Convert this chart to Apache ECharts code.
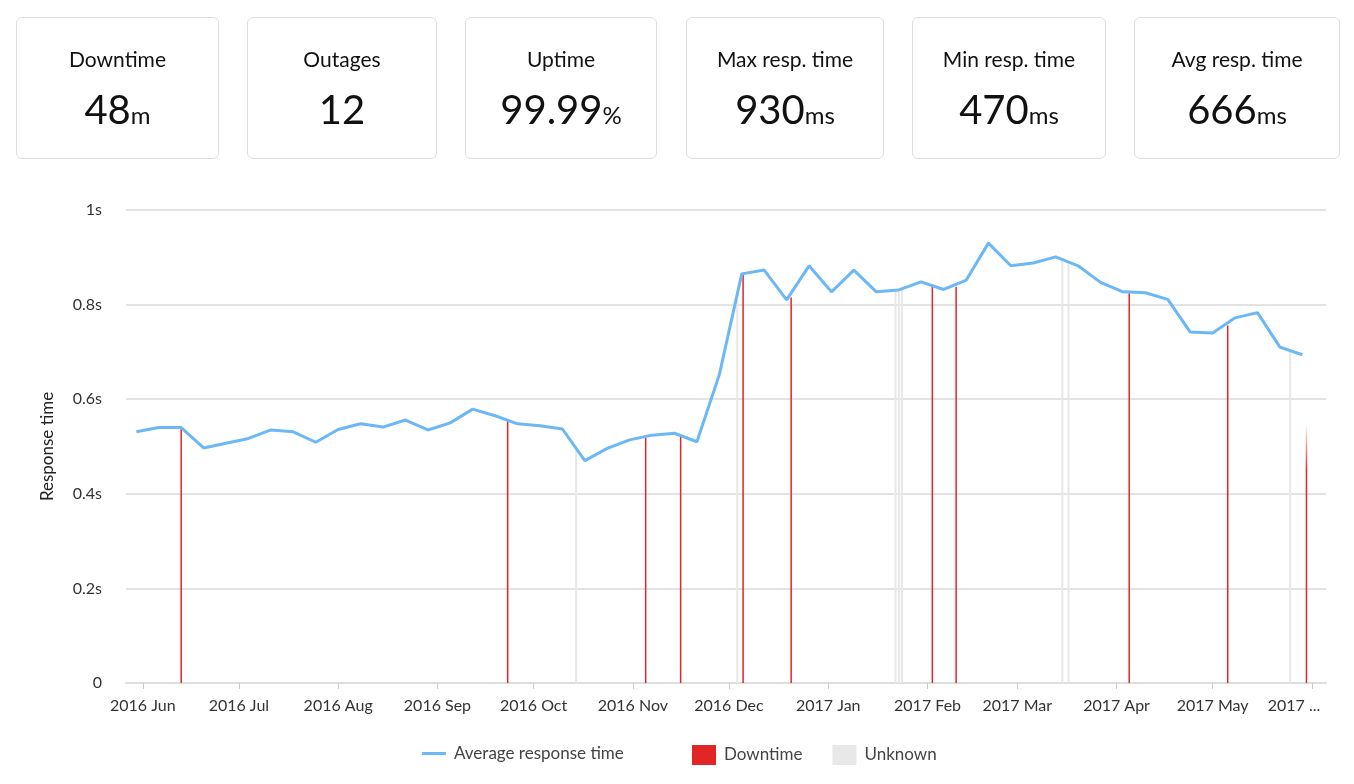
<!DOCTYPE html>
<html>
<head>
<meta charset="utf-8">
<script src="https://cdn.jsdelivr.net/npm/echarts@6/dist/echarts.min.js"></script>
<style>
  html, body { margin: 0; padding: 0; background: #fff; }
  body { width: 1354px; height: 784px; position: relative; overflow: hidden; font-family: Lato, "Open Sans", sans-serif; color: #111; }
  #chart { position: absolute; left: 0; top: 0; width: 1354px; height: 784px; }
  .card { position: absolute; top: 17px; height: 142px; border: 1px solid #dedede; border-radius: 6px; box-sizing: border-box; text-align: center; background: #fff; }
  .card .title { position: absolute; left: 0; right: 0; top: 29px; font-size: 21px; line-height: 24px; }
  .card .value { position: absolute; left: 0; right: 0; top: 69px; font-size: 40px; line-height: 44px; }
  .card .unit { font-size: 24px; }
</style>
</head>
<body>
<div id="chart"></div>
<div id="cards"></div>
<script>
// stat cards
var cardTitles = ['Downtime', 'Outages', 'Uptime', 'Max resp. time', 'Min resp. time', 'Avg resp. time'];
var cardValues = ['48', '12', '99.99', '930', '470', '666'];
var cardUnits = ['m', '', '%', 'ms', 'ms', 'ms'];
var cardLeft = [16, 247, 465, 686, 912, 1134];
var cardWidth = [203, 190, 192, 198, 194, 206];

// weekly average response time (seconds)
var weeks = [
  '2016-05-30', '2016-06-06', '2016-06-13', '2016-06-20', '2016-06-27',
  '2016-07-04', '2016-07-11', '2016-07-18', '2016-07-25',
  '2016-08-01', '2016-08-08', '2016-08-15', '2016-08-22', '2016-08-29',
  '2016-09-05', '2016-09-12', '2016-09-19', '2016-09-26',
  '2016-10-03', '2016-10-10', '2016-10-17', '2016-10-24', '2016-10-31',
  '2016-11-07', '2016-11-14', '2016-11-21', '2016-11-28',
  '2016-12-05', '2016-12-12', '2016-12-19', '2016-12-26',
  '2017-01-02', '2017-01-09', '2017-01-16', '2017-01-23', '2017-01-30',
  '2017-02-06', '2017-02-13', '2017-02-20', '2017-02-27',
  '2017-03-06', '2017-03-13', '2017-03-20', '2017-03-27',
  '2017-04-03', '2017-04-10', '2017-04-17', '2017-04-24',
  '2017-05-01', '2017-05-08', '2017-05-15', '2017-05-22', '2017-05-29'
];
var responseTime = [
  0.531, 0.540, 0.540, 0.497, 0.507,
  0.517, 0.535, 0.531, 0.509,
  0.536, 0.548, 0.541, 0.556, 0.535,
  0.550, 0.579, 0.565, 0.548,
  0.544, 0.537, 0.470, 0.496, 0.514,
  0.524, 0.528, 0.510, 0.652,
  0.865, 0.873, 0.810, 0.882,
  0.827, 0.873, 0.827, 0.831, 0.848,
  0.832, 0.851, 0.930, 0.882,
  0.888, 0.901, 0.882, 0.847,
  0.827, 0.825, 0.811, 0.742,
  0.740, 0.772, 0.783, 0.710, 0.694
];

// downtime events
var downtimeDates = [
  '2016-06-13', '2016-09-22 22:00', '2016-11-05', '2016-11-15 22:00',
  '2016-12-05 10:00', '2016-12-20 10:00', '2017-02-02 12:00', '2017-02-09 22:00',
  '2017-04-04 23:00', '2017-05-05 17:00', '2017-05-30 07:00'
];
var downtimeValues = [0.540, 0.556, 0.518, 0.521, 0.865, 0.815, 0.839, 0.838, 0.824, 0.756, 0.548];

// unknown periods
var unknownDates = [
  '2016-10-14 05:00', '2016-12-03 12:00', '2017-01-21 22:00', '2017-01-23',
  '2017-01-23 22:00', '2017-03-15', '2017-03-16 22:00', '2017-05-25 03:00'
];
var unknownValues = [0.50, 0.81, 0.83, 0.83, 0.831, 0.896, 0.89, 0.703];

var yTickLabels = ['0', '0.2s', '0.4s', '0.6s', '0.8s', '1s'];
var xTickLabels = ['2016 Jun', '2016 Jul', '2016 Aug', '2016 Sep', '2016 Oct', '2016 Nov',
  '2016 Dec', '2017 Jan', '2017 Feb', '2017 Mar', '2017 Apr', '2017 May', '2017 ...'];

var html = '';
for (var i = 0; i < cardTitles.length; i++) {
  html += '<div class="card" style="left:' + cardLeft[i] + 'px;width:' + cardWidth[i] + 'px">' +
    '<div class="title">' + cardTitles[i] + '</div>' +
    '<div class="value">' + cardValues[i] + '<span class="unit">' + cardUnits[i] + '</span></div></div>';
}
document.getElementById('cards').innerHTML = html;

function zip(xs, ys) {
  return xs.map(function (x, i) { return [x, ys[i]]; });
}

var downtimeData = zip(downtimeDates, downtimeValues).map(function (d, i) {
  if (i === downtimeDates.length - 1) {
    return {
      value: d,
      itemStyle: {
        color: {
          type: 'linear', x: 0, y: 0, x2: 0, y2: 1,
          colorStops: [{ offset: 0, color: 'rgba(224,38,38,0)' }, { offset: 0.18, color: '#e02626' }, { offset: 1, color: '#e02626' }]
        }
      }
    };
  }
  return d;
});

var myChart = echarts.init(document.getElementById('chart'));

var font = 'Lato, "Open Sans", sans-serif';
var legendText = { fontFamily: font, fontSize: 17, color: '#444', padding: [0, 0, 0, 3] };

var option = {
  animation: false,
  textStyle: { fontFamily: font },
  grid: { left: 126, right: 28, top: 210, bottom: 101, containLabel: false },
  legend: [
    {
      top: 740,
      left: 417,
      itemWidth: 24,
      itemHeight: 20,
      textStyle: legendText,
      data: [{ name: 'Average response time', icon: 'path://M0,0 H24 V3 H0 Z' }]
    },
    {
      top: 740,
      left: 687,
      itemWidth: 24,
      itemHeight: 20,
      itemGap: 30,
      textStyle: legendText,
      data: [
        { name: 'Downtime', icon: 'rect' },
        { name: 'Unknown', icon: 'rect' }
      ]
    }
  ],
  xAxis: {
    type: 'time',
    min: '2016-05-27',
    max: '2017-06-05',
    splitNumber: 12,
    axisLine: { lineStyle: { color: '#dddddd', width: 2 } },
    axisTick: { show: true, length: 6, lineStyle: { color: '#cccccc', width: 1 } },
    splitLine: { show: false },
    axisLabel: {
      margin: 15,
      fontSize: 16,
      color: '#333',
      fontFamily: font,
      formatter: function (value) {
        var d = new Date(value);
        var idx = (d.getFullYear() - 2016) * 12 + d.getMonth() - 5;
        var label = xTickLabels[idx] || '';
        if (idx === xTickLabels.length - 1) {
          return '{last|' + label + '}';
        }
        return label;
      },
      rich: {
        last: { fontSize: 16, color: '#333', fontFamily: font, padding: [0, 36, 0, 0] }
      }
    }
  },
  yAxis: {
    type: 'value',
    min: 0,
    max: 1,
    interval: 0.2,
    name: 'Response time',
    nameLocation: 'middle',
    nameGap: 70,
    nameTextStyle: { fontSize: 17, color: '#222', fontFamily: font },
    axisLine: { show: false },
    axisTick: { show: false },
    axisLabel: {
      margin: 24,
      fontSize: 16,
      color: '#333',
      fontFamily: font,
      formatter: function (value, index) { return yTickLabels[index]; }
    },
    splitLine: { lineStyle: { color: '#e3e3e3', width: 2 } }
  },
  series: [
    {
      name: 'Unknown',
      type: 'bar',
      barWidth: 2,
      barGap: '-100%',
      itemStyle: { color: '#e8e8e8' },
      z: 2,
      data: zip(unknownDates, unknownValues)
    },
    {
      name: 'Downtime',
      type: 'bar',
      barWidth: 1.5,
      barGap: '-100%',
      itemStyle: { color: '#e02626' },
      z: 3,
      data: downtimeData
    },
    {
      name: 'Average response time',
      type: 'line',
      symbol: 'none',
      lineStyle: { color: '#6cb8f6', width: 3 },
      itemStyle: { color: '#6cb8f6' },
      z: 5,
      data: zip(weeks, responseTime)
    }
  ]
};

myChart.setOption(option);
window.addEventListener('resize', function () {
  myChart.resize();
});
</script>
</body>
</html>
